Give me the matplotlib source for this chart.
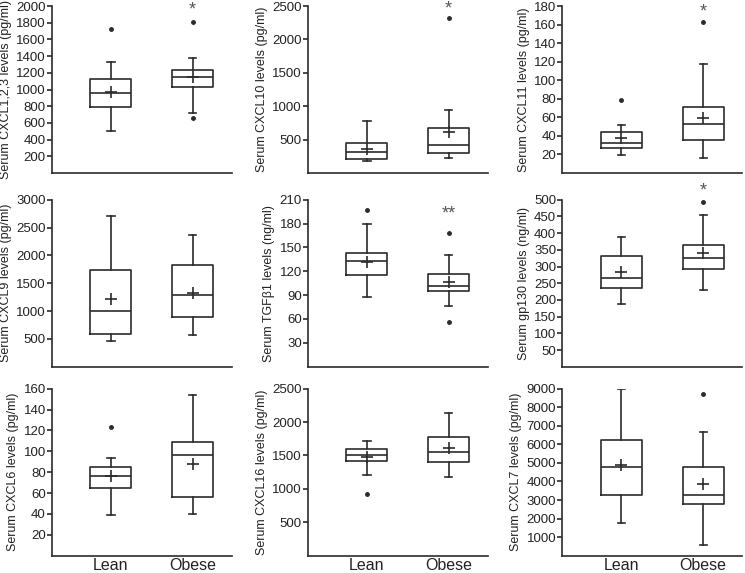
import matplotlib
matplotlib.use("Agg")
import matplotlib.pyplot as plt
import numpy as np

plt.rcParams['font.family'] = ['Liberation Sans', 'DejaVu Sans']

# panel labels and axis ranges
y_labels = [
    "Serum CXCL1,2,3 levels (pg/ml)",
    "Serum CXCL10 levels (pg/ml)",
    "Serum CXCL11 levels (pg/ml)",
    "Serum CXCL9 levels (pg/ml)",
    "Serum TGF\u03b21 levels (ng/ml)",
    "Serum gp130 levels (ng/ml)",
    "Serum CXCL6 levels (pg/ml)",
    "Serum CXCL16 levels (pg/ml)",
    "Serum CXCL7 levels (pg/ml)",
]
y_max = [2000, 2500, 180, 3000, 210, 500, 160, 2500, 9000]
y_step = [200, 500, 20, 500, 30, 50, 20, 500, 1000]
groups = ["Lean", "Obese"]
sig_marks = ["*", "*", "*", "", "**", "*", "", "", ""]

# Lean group box statistics
lean_low = [498, 175, 19, 470, 88, 189, 39, 1203, 1740]
lean_q1 = [793, 215, 27, 596, 115, 235, 65, 1424, 3270]
lean_med = [964, 315, 32, 1002, 133, 266, 76, 1514, 4766]
lean_q3 = [1124, 450, 44.6, 1738, 142.5, 330, 85, 1594, 6225]
lean_high = [1331, 775, 52, 2712, 179, 387, 93.5, 1724, 8982]
lean_mean = [976, 355, 38.2, 1218, 131.7, 283, 76.7, 1474, 4910]
lean_fliers = [[1725], [], [79], [], [196.5], [], [123], [917], []]

# Obese group box statistics
obese_low = [717, 230, 16.6, 572, 76, 229, 40.2, 1173, 568]
obese_q1 = [1028, 300, 35.8, 901, 95.7, 293, 56, 1398, 2784]
obese_med = [1155, 425, 52.7, 1284, 101.1, 326, 96.3, 1559, 3252]
obese_q3 = [1235, 680, 71.5, 1822, 117, 364, 109, 1784, 4802]
obese_high = [1375, 940, 117, 2366, 141, 453, 153.7, 2140, 6658]
obese_mean = [1151, 615, 59.5, 1325, 107, 339, 88.1, 1619, 3865]
obese_fliers = [[665, 1805], [2315], [163], [], [56.8, 167.6], [492], [], [], [8694]]

ink = "#2b2b2b"
fig = plt.figure(figsize=(7.45, 5.73), dpi=100)

lefts = [0.0698, 0.4134, 0.755]
bottoms = [0.698, 0.360, 0.0302]
w, h = 0.2416, 0.2915
# where the significance stars sit, as a fraction of the y range
star_frac = [0.975, 0.985, 0.965, 0, 0.915, 1.055, 0, 0, 0]

for i in range(9):
    r, c = divmod(i, 3)
    ax = fig.add_axes([lefts[c], bottoms[r], w, h])
    stats = []
    for lo, q1, med, q3, hi, mn, fl in [
        (lean_low[i], lean_q1[i], lean_med[i], lean_q3[i], lean_high[i], lean_mean[i], lean_fliers[i]),
        (obese_low[i], obese_q1[i], obese_med[i], obese_q3[i], obese_high[i], obese_mean[i], obese_fliers[i]),
    ]:
        stats.append(dict(whislo=lo, q1=q1, med=med, q3=q3, whishi=hi, mean=mn, fliers=fl))
    ax.bxp(stats, positions=[1, 2], widths=0.5, showmeans=True, capwidths=0.09,
           boxprops=dict(color=ink, linewidth=1.2),
           medianprops=dict(color=ink, linewidth=1.2),
           whiskerprops=dict(color=ink, linewidth=1.2),
           capprops=dict(color=ink, linewidth=1.2),
           meanprops=dict(marker='+', markeredgecolor=ink, markersize=9, markeredgewidth=1.2),
           flierprops=dict(marker='o', markerfacecolor=ink, markeredgecolor=ink, markersize=2.5))
    ax.set_xlim(0.28, 2.48)
    ax.set_ylim(0, y_max[i])
    ax.set_yticks(np.arange(y_step[i], y_max[i] + 1, y_step[i]))
    for s in ['top', 'right']:
        ax.spines[s].set_visible(False)
    for s in ['left', 'bottom']:
        ax.spines[s].set_color(ink)
        ax.spines[s].set_linewidth(1.2)
    ax.tick_params(axis='y', length=3.5, width=1.2, color=ink, labelsize=9.5, pad=1, labelcolor='#222222')
    ax.tick_params(axis='x', length=0, labelsize=11.5, pad=1.5, labelcolor='#222222')
    if r == 2:
        ax.set_xticks([1, 2])
        ax.set_xticklabels(groups)
    else:
        ax.set_xticks([])
    ax.set_ylabel(y_labels[i], fontsize=9, color='#222222', labelpad=3)
    if sig_marks[i]:
        ax.text(2, star_frac[i] * y_max[i], sig_marks[i], ha='center', va='center',
                fontsize=13, color='#555555', clip_on=False)

fig.savefig("out.png", dpi=100)
